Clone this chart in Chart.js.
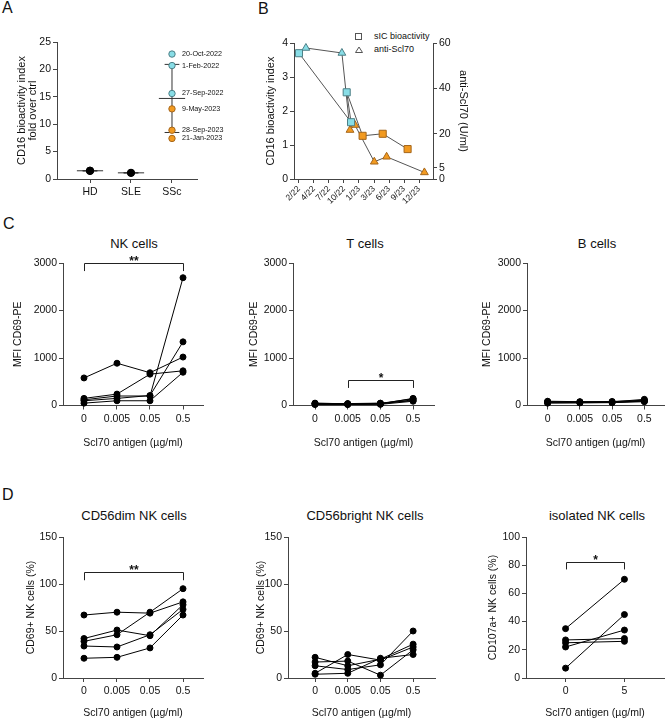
<!DOCTYPE html>
<html>
<head>
<meta charset="utf-8">
<script src="https://cdn.jsdelivr.net/npm/chart.js@4.4.0/dist/chart.umd.min.js"></script>
<style>
  body { margin: 0; width: 669px; height: 720px; position: relative; background: #fff; overflow: hidden;
         font-family: "Liberation Sans", Arial, sans-serif; color: #111; }
  canvas { position: absolute; }
  .letter { position: absolute; font-size: 16px; line-height: 1; }
  .ttl { position: absolute; font-size: 13px; line-height: 1; transform: translateX(-50%); white-space: nowrap; }
  .leg { position: absolute; font-size: 9px; line-height: 1; white-space: nowrap; }
</style>
</head>
<body>
<div class="letter" style="left:2px;top:0px">A</div>
<div class="letter" style="left:258px;top:1px">B</div>
<div class="letter" style="left:3px;top:216px">C</div>
<div class="letter" style="left:2px;top:487px">D</div>

<div class="ttl" style="left:134px;top:236.6px">NK cells</div>
<div class="ttl" style="left:365px;top:236.6px">T cells</div>
<div class="ttl" style="left:597px;top:236.6px">B cells</div>
<div class="ttl" style="left:134px;top:508.6px">CD56dim NK cells</div>
<div class="ttl" style="left:365px;top:508.6px">CD56bright NK cells</div>
<div class="ttl" style="left:597px;top:508.6px">isolated NK cells</div>

<svg style="position:absolute;left:353px;top:31px" width="12" height="24">
  <rect x="2.5" y="2.5" width="6" height="6" fill="none" stroke="#555" stroke-width="1"/>
  <polygon points="6,16 9.5,21.5 2.5,21.5" fill="none" stroke="#555" stroke-width="1"/>
</svg>
<div class="leg" style="left:374px;top:31.6px">sIC bioactivity</div>
<div class="leg" style="left:374px;top:44.6px">anti-Scl70</div>

<script>
// ---- Data ----
// Panel A: CD16 bioactivity per cohort
const groupLabels = ['HD', 'SLE', 'SSc'];
const hdValues = [1.45, 1.5, 1.55];
const sleValues = [1.1, 1.15];
const sscValues = [22.8, 20.7, 15.6, 12.8, 8.9, 7.4];
const sscDates = ['20-Oct-2022', '1-Feb-2022', '27-Sep-2022', '9-May-2023', '28-Sep-2023', '21-Jan-2023'];
const sscPeriod = [0, 0, 0, 1, 1, 1];

// Panel B: follow-up of one patient (x = position along the month ticks)
const monthTicks = ['2/22', '4/22', '7/22', '10/22', '1/23', '3/23', '6/23', '9/23', '12/23'];
const sicPos = [0, 3.47, 3.18, 4.24, 5.58, 7.24];
const sicValues = [3.7, 1.67, 2.55, 1.27, 1.33, 0.88];
const sicPeriod = [0, 0, 0, 1, 1, 1];
const sclPos = [0.46, 2.86, 3.4, 3.73, 5.02, 5.84, 8.36];
const sclValues = [57.8, 55.6, 21.6, 23.8, 7.6, 9.8, 2.9];
const sclPeriod = [0, 0, 1, 1, 1, 1, 1];
const leftTicksB = [0, 1, 2, 3, 4];
const rightTicksB = [0, 5, 20, 40, 60];

// Panel C: MFI CD69-PE per donor across Scl70 concentrations
const concLabels = ['0', '0.005', '0.05', '0.5'];
const mfiTicks = [0, 1000, 2000, 3000];
const nkMfi = [
    [580, 890, 690, 1020],
    [150, 240, 660, 730],
    [120, 200, 200, 2690],
    [100, 150, 210, 1340],
    [50, 100, 100, 700]
];
const tMfi = [
    [40, 30, 30, 120],
    [30, 25, 35, 150],
    [45, 40, 50, 100],
    [20, 20, 25, 90],
    [50, 35, 45, 140]
];
const bMfi = [
    [80, 70, 75, 130],
    [60, 60, 65, 100],
    [70, 75, 70, 90],
    [90, 80, 85, 110],
    [50, 55, 60, 80]
];

// Panel D: % positive NK cells
const pctTicks = [0, 50, 100, 150];
const dimPct = [
    [67, 70, 69, 81],
    [39, 46, 70, 95],
    [42, 51, 45, 78],
    [34, 33, 46, 73],
    [21, 22, 32, 67]
];
const brightPct = [
    [22, 13, 20, 36],
    [5, 25, 19, 33],
    [17, 18, 3, 30],
    [13, 9, 14, 50],
    [4, 5, 21, 25]
];
const isoLabels = ['0', '5'];
const isoTicks = [0, 20, 40, 60, 80, 100];
const isoPct = [
    [35, 70],
    [7, 45],
    [22, 34],
    [27, 28],
    [25, 26]
];

// ---- Style ----
const AXIS = '#444';
const TXT = '#111';
const FILL = ['#88dde6', '#f29a20'];
const EDGE = ['#4d7f86', '#a5661b'];
Chart.defaults.font.family = '"Liberation Sans", Arial, sans-serif';
Chart.defaults.color = TXT;

// ---- Helpers ----
const mean = a => a.reduce((s, v) => s + v, 0) / a.length;
const sd = a => {
    if (a.length < 2) return 0;
    const m = mean(a);
    return Math.sqrt(a.reduce((s, v) => s + (v - m) ** 2, 0) / (a.length - 1));
};

// significance bracket drawn in data units
const bracketPlugin = {
    id: 'bracket',
    afterDatasetsDraw(chart, args, o) {
        if (!o || !o.label) return;
        const {ctx} = chart;
        const xs = chart.scales.x, ys = chart.scales.y;
        const x1 = Math.round(xs.getPixelForValue(o.from)) + 0.5;
        const x2 = Math.round(xs.getPixelForValue(o.to)) + 0.5;
        const yt = Math.round(ys.getPixelForValue(o.y)) + 0.5;
        const yd = ys.getPixelForValue(o.drop);
        ctx.save();
        ctx.strokeStyle = '#222';
        ctx.lineWidth = 1;
        ctx.beginPath();
        ctx.moveTo(x1, yd);
        ctx.lineTo(x1, yt);
        ctx.lineTo(x2, yt);
        ctx.lineTo(x2, yd);
        ctx.stroke();
        ctx.fillStyle = TXT;
        ctx.font = 'bold 12px "Liberation Sans"';
        ctx.textAlign = 'center';
        ctx.textBaseline = 'alphabetic';
        ctx.fillText(o.label, (x1 + x2) / 2, yt + 1);
        ctx.restore();
    }
};

// date notes next to SSc points
const notesPlugin = {
    id: 'notes',
    afterDatasetsDraw(chart, args, o) {
        if (!o || !o.texts) return;
        const {ctx} = chart;
        const meta = chart.getDatasetMeta(o.dataset);
        ctx.save();
        ctx.fillStyle = TXT;
        ctx.font = '7.2px "Liberation Sans"';
        ctx.textAlign = 'left';
        ctx.textBaseline = 'middle';
        meta.data.forEach((pt, i) => ctx.fillText(o.texts[i], pt.x + 10, pt.y));
        ctx.restore();
    }
};
Chart.register(bracketPlugin, notesPlugin);

function makeCanvas(left, top, width, height) {
    const c = document.createElement('canvas');
    c.width = width;
    c.height = height;
    c.style.left = left + 'px';
    c.style.top = top + 'px';
    c.style.width = width + 'px';
    c.style.height = height + 'px';
    document.body.appendChild(c);
    return c;
}

function yScale(ticks, title, width, titlePad, fontSize) {
    return {
        type: 'linear',
        position: 'left',
        min: ticks[0],
        max: ticks[ticks.length - 1],
        afterBuildTicks: s => { s.ticks = ticks.map(v => ({value: v})); },
        afterFit: s => { s.width = width; },
        grid: {drawOnChartArea: false, tickLength: 4, color: AXIS},
        border: {color: AXIS},
        ticks: {color: TXT, font: {size: 10.5}, padding: 2, callback: v => String(v)},
        title: {display: true, text: title, color: TXT,
                font: {size: fontSize || 10.5, lineHeight: 1}, padding: {top: titlePad, bottom: 0}}
    };
}

function xScale(labels, min, max, height, title) {
    return {
        type: 'linear',
        position: 'bottom',
        min: min,
        max: max,
        afterBuildTicks: s => { s.ticks = labels.map((_, i) => ({value: i})); },
        afterFit: s => { s.height = height; },
        grid: {drawOnChartArea: false, tickLength: 4, color: AXIS},
        border: {color: AXIS},
        ticks: {color: TXT, font: {size: 10.5}, padding: 3, autoSkip: false,
                maxRotation: 0, callback: v => labels[v]},
        title: title
            ? {display: true, text: title, color: TXT, font: {size: 10.5, lineHeight: 1}, padding: {top: 0, bottom: 2}}
            : {display: false}
    };
}

function donorSets(rows) {
    return rows.map(r => ({
        data: r.map((v, i) => ({x: i, y: v})),
        borderColor: '#000',
        borderWidth: 1,
        pointBackgroundColor: '#000',
        pointBorderColor: '#000',
        pointRadius: 3,
        clip: false
    }));
}

function baseOptions(padTop, padRight, scales, extra) {
    return {
        responsive: false,
        animation: false,
        devicePixelRatio: 1,
        layout: {padding: {top: padTop, right: padRight, left: 0, bottom: 0}},
        plugins: Object.assign({legend: {display: false}, tooltip: {enabled: false}}, extra || {}),
        scales: scales
    };
}

// ---- Panel A ----
function summarySets(xc, vals) {
    const m = mean(vals), s = sd(vals);
    const st = {borderColor: '#333', borderWidth: 1, pointRadius: 0, clip: false, order: 2};
    return [
        Object.assign({data: [{x: xc - 0.32, y: m}, {x: xc + 0.32, y: m}]}, st),
        Object.assign({data: [{x: xc, y: m - s}, {x: xc, y: m + s}]}, st),
        Object.assign({data: [{x: xc - 0.18, y: m - s}, {x: xc + 0.18, y: m - s}]}, st),
        Object.assign({data: [{x: xc - 0.18, y: m + s}, {x: xc + 0.18, y: m + s}]}, st)
    ];
}
const dotStyle = {showLine: false, pointRadius: 3.5, pointBorderWidth: 1, clip: false, order: 0};
new Chart(makeCanvas(14, 30, 213, 170), {
    type: 'line',
    data: {
        datasets: [
            Object.assign({data: sscValues.map(v => ({x: 2, y: v})),
                pointBackgroundColor: sscPeriod.map(p => FILL[p]),
                pointBorderColor: sscPeriod.map(p => EDGE[p])}, dotStyle, {pointRadius: 3.2}),
            Object.assign({data: hdValues.map(v => ({x: 0, y: v})),
                pointBackgroundColor: '#000', pointBorderColor: '#000'}, dotStyle),
            Object.assign({data: sleValues.map(v => ({x: 1, y: v})),
                pointBackgroundColor: '#000', pointBorderColor: '#000'}, dotStyle),
            ...summarySets(0, hdValues),
            ...summarySets(1, sleValues),
            ...summarySets(2, sscValues)
        ]
    },
    options: baseOptions(12, 30, {
        x: xScale(groupLabels, -0.805, 2.61, 21, null),
        y: yScale([0, 5, 10, 15, 20, 25], ['CD16 bioactivity index', 'fold over ctrl'], 43, 2.5, 11)
    }, {notes: {dataset: 0, texts: sscDates}})
});

// ---- Panel B ----
const yB = yScale(leftTicksB, 'CD16 bioactivity index', 36, 7.5, 11);
const y2B = yScale(rightTicksB, 'anti-Scl70 (U/ml)', 39, 3.5, 11);
y2B.position = 'right';
const xB = xScale(monthTicks, -0.333, 8.933, 36, null);
xB.ticks.font = {size: 8.5};
xB.ticks.maxRotation = 45;
xB.ticks.minRotation = 45;
xB.ticks.padding = 1;
new Chart(makeCanvas(258, 30, 214, 185), {
    type: 'line',
    data: {
        datasets: [
            {
                label: 'sIC bioactivity',
                yAxisID: 'y',
                data: sicPos.map((x, i) => ({x: x, y: sicValues[i]})),
                pointStyle: 'rect',
                pointRadius: 5,
                pointBorderWidth: 1,
                pointBackgroundColor: sicPeriod.map(p => FILL[p]),
                pointBorderColor: sicPeriod.map(p => EDGE[p]),
                borderColor: '#555',
                borderWidth: 1,
                clip: false
            },
            {
                label: 'anti-Scl70',
                yAxisID: 'y2',
                data: sclPos.map((x, i) => ({x: x, y: sclValues[i]})),
                pointStyle: 'triangle',
                pointRadius: 4.5,
                pointBorderWidth: 1,
                pointBackgroundColor: sclPeriod.map(p => FILL[p]),
                pointBorderColor: sclPeriod.map(p => EDGE[p]),
                borderColor: '#555',
                borderWidth: 1,
                clip: false
            }
        ]
    },
    options: baseOptions(13, 0, {x: xB, y: yB, y2: y2B})
});

// ---- Panel C ----
const xTitle = 'Scl70 antigen (µg/ml)';
new Chart(makeCanvas(10, 245, 201, 205), {
    type: 'line',
    data: {datasets: donorSets(nkMfi)},
    options: baseOptions(18, 8, {
        x: xScale(concLabels, -0.636, 3.606, 44.5, xTitle),
        y: yScale(mfiTicks, 'MFI CD69-PE', 53, 2.75)
    }, {bracket: {from: 0, to: 3, y: 3000, drop: 2830, label: '**'}})
});
new Chart(makeCanvas(246, 245, 195, 205), {
    type: 'line',
    data: {datasets: donorSets(tMfi)},
    options: baseOptions(18, 7, {
        x: xScale(concLabels, -0.673, 3.64, 44.5, xTitle),
        y: yScale(mfiTicks, 'MFI CD69-PE', 47, 2.75)
    }, {bracket: {from: 1, to: 3, y: 540, drop: 370, label: '*'}})
});
new Chart(makeCanvas(479, 245, 190, 205), {
    type: 'line',
    data: {datasets: donorSets(bMfi)},
    options: baseOptions(18, 3, {
        x: xScale(concLabels, -0.64, 3.61, 44.5, xTitle),
        y: yScale(mfiTicks, 'MFI CD69-PE', 48, 2.75)
    })
});

// ---- Panel D ----
new Chart(makeCanvas(23, 525, 188, 195), {
    type: 'line',
    data: {datasets: donorSets(dimPct)},
    options: baseOptions(12, 8, {
        x: xScale(concLabels, -0.636, 3.606, 42, xTitle),
        y: yScale(pctTicks, 'CD69+ NK cells (%)', 40, 2.75)
    }, {bracket: {from: 0, to: 3, y: 113, drop: 104, label: '**'}})
});
new Chart(makeCanvas(253, 525, 188, 195), {
    type: 'line',
    data: {datasets: donorSets(brightPct)},
    options: baseOptions(12, 6, {
        x: xScale(concLabels, -0.83, 3.67, 42, xTitle),
        y: yScale(pctTicks, 'CD69+ NK cells (%)', 35, 2.75)
    })
});
new Chart(makeCanvas(485, 525, 184, 195), {
    type: 'line',
    data: {datasets: donorSets(isoPct)},
    options: baseOptions(12, 0, {
        x: xScale(isoLabels, -0.672, 1.672, 42, xTitle),
        y: yScale(isoTicks, 'CD107a+ NK cells (%)', 41, 2.75)
    }, {bracket: {from: 0, to: 1, y: 82, drop: 77, label: '*'}})
});
</script>
</body>
</html>
